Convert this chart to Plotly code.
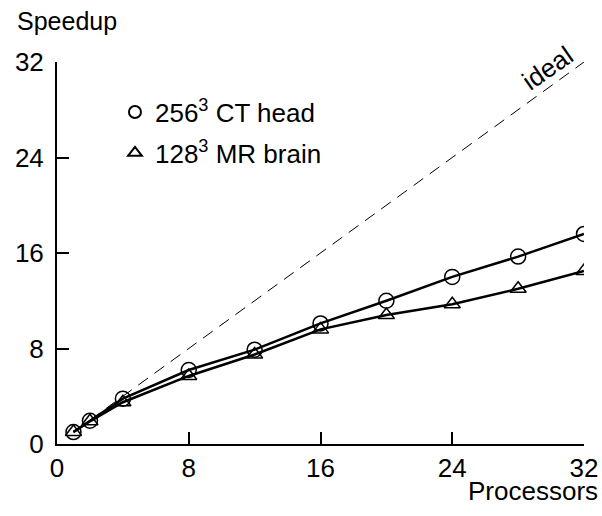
import plotly.graph_objects as go

# processors used
procs = [1, 2, 4, 8, 12, 16, 20, 24, 28, 32]
# speedup, 256^3 CT head (circles)
ct_head = [1.0, 1.95, 3.8, 6.2, 7.9, 10.1, 12.0, 14.0, 15.7, 17.6]
# speedup, 128^3 MR brain (triangles)
mr_brain = [1.0, 1.9, 3.5, 5.7, 7.5, 9.6, 10.8, 11.7, 13.0, 14.5]
ideal_x = [1, 32]
ideal_y = [1, 32]

ticks = [0, 8, 16, 24, 32]
font = "Liberation Sans, Arial, sans-serif"

fig = go.Figure()

fig.add_trace(go.Scatter(
    x=ideal_x, y=ideal_y, mode="lines",
    line=dict(color="black", width=1, dash="12px,8px"),
    showlegend=False,
))
fig.add_trace(go.Scatter(
    x=procs, y=mr_brain, mode="lines+markers",
    line=dict(color="black", width=2.5),
    marker=dict(symbol="triangle-up-open", size=14, color="black",
                line=dict(width=1.5)),
    showlegend=False,
))
fig.add_trace(go.Scatter(
    x=procs, y=ct_head, mode="lines+markers",
    line=dict(color="black", width=2.5),
    marker=dict(symbol="circle-open", size=15, color="black",
                line=dict(width=1.5)),
    showlegend=False,
))

# legend-only entries (symbol only, no line)
fig.add_trace(go.Scatter(
    x=[None], y=[None], mode="markers", name="256<sup>3</sup> CT head",
    marker=dict(symbol="circle-open", size=12, color="black", line=dict(width=1.5)),
    legend="legend",
))
fig.add_trace(go.Scatter(
    x=[None], y=[None], mode="markers", name="128<sup>3</sup> MR brain",
    marker=dict(symbol="triangle-up-open", size=11, color="black", line=dict(width=1.2)),
    legend="legend2",
))

axis_style = dict(
    range=[0, 32], tickvals=ticks, showgrid=False, zeroline=False,
    showline=True, linecolor="black", linewidth=2,
    ticks="inside", ticklen=12, tickwidth=2, tickcolor="black",
    tickfont=dict(size=26, color="black", family=font),
    automargin=False,
)

fig.update_xaxes(**axis_style, ticklabelstandoff=0)
fig.update_yaxes(**axis_style, ticklabelstandoff=6)

fig.add_annotation(text="Speedup", xref="paper", yref="paper", x=-0.08, y=1.107,
                   xanchor="left", yanchor="middle", showarrow=False,
                   font=dict(size=25, color="black", family=font))
fig.add_annotation(text="Processors", xref="paper", yref="paper", x=1.03, y=-0.123,
                   xanchor="right", yanchor="middle", showarrow=False,
                   font=dict(size=26, color="black", family=font))
fig.add_annotation(text="ideal", x=29.8, y=31.5, textangle=-35, showarrow=False,
                   font=dict(size=26, color="black", family=font))

legend_style = dict(xanchor="left", yanchor="middle", bgcolor="rgba(0,0,0,0)",
                    font=dict(size=26, family=font, color="black"),
                    itemsizing="constant")

fig.update_layout(
    width=602, height=516,
    margin=dict(l=57, r=18, t=62, b=72),
    plot_bgcolor="white", paper_bgcolor="white",
    font=dict(family=font, color="black"),
    legend=dict(x=0.11, y=0.869, **legend_style),
    legend2=dict(x=0.11, y=0.762, **legend_style),
)

# drop the default 8px body margin so the figure fills the window
fig.write_html("out.html", config={"displayModeBar": False},
               post_script="document.body.style.margin = '0';")
